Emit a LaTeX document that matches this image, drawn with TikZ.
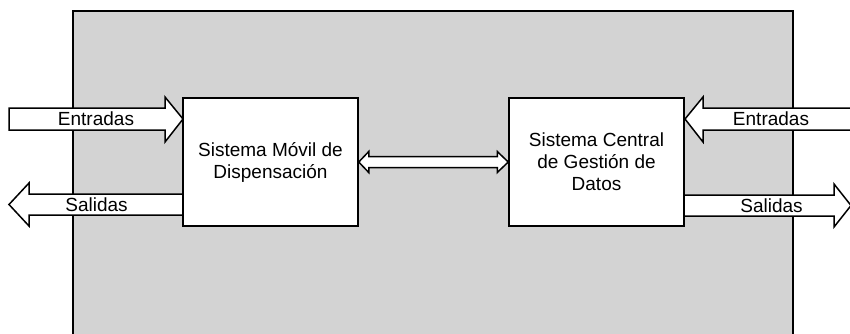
\documentclass[tikz,border=0pt]{standalone}
\usepackage{fontspec}
\setmainfont{Liberation Sans}
\usetikzlibrary{calc}
\definecolor{panelgray}{RGB}{211,211,211}
\begin{document}
\begin{tikzpicture}[x=1pt,y=-1pt,
  box/.style={draw=black, line width=1.5pt, fill=white, minimum width=175pt, minimum height=128pt, align=center, inner sep=0pt, font=\fontsize{19}{22}\selectfont},
  blockarrow/.style={draw=black, line width=1.5pt, fill=white, line join=miter},
  lbl/.style={inner sep=0pt, font=\fontsize{19}{22}\selectfont}]
\useasboundingbox (0,0) rectangle (850,333);
\clip (0,0) rectangle (850,333);
% panel
\draw[fill=panelgray, line width=1.5pt] (73,11) rectangle (793,345);
% left arrows
\draw[blockarrow] (9,108) -- (165,108) -- (165,97) -- (183,119) -- (165,142) -- (165,130) -- (9,130) -- cycle;
\draw[blockarrow] (190,194) -- (29,194) -- (29,183) -- (9,204.5) -- (29,226) -- (29,215) -- (190,215) -- cycle;
% right arrows
\draw[blockarrow] (860,108) -- (703,108) -- (703,97) -- (685,119) -- (703,142) -- (703,130) -- (860,130) -- cycle;
\draw[blockarrow] (675,195) -- (834,195) -- (834,184) -- (851,205.5) -- (834,227) -- (834,216) -- (675,216) -- cycle;
% boxes
\node[box] (movil) at (270.5,162) {Sistema Móvil de\\Dispensación};
\node[box] (central) at (596.5,162) {Sistema Central\\de Gestión de\\Datos};
% double arrow between boxes
\draw[blockarrow] (movil.east) -- ++(10,-10.5) -- ++(0,5) -- ($(central.west)+(-11,-5.5)$) -- ++(0,-5) -- (central.west) -- ++(-11,10.5) -- ++(0,-5) -- ($(movil.east)+(10,5.5)$) -- ++(0,5) -- cycle;
% labels
\node[lbl] (inL) at (96,119) {Entradas};
\node[lbl] (outL) at (96.5,204.5) {Salidas};
\node[lbl] (inR) at (771,119) {Entradas};
\node[lbl] (outR) at (771.5,205.5) {Salidas};
\end{tikzpicture}
\end{document}
